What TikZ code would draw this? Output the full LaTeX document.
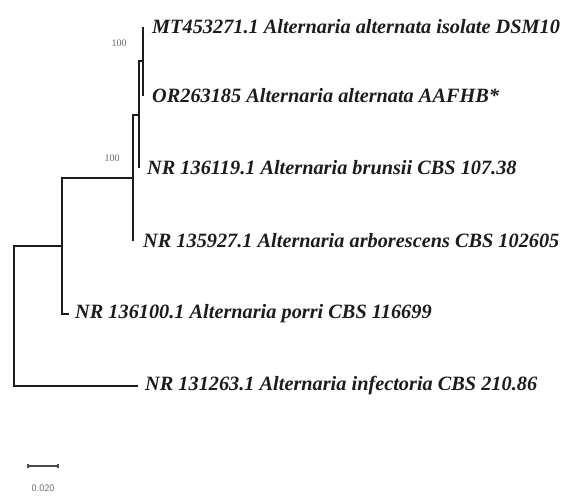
\documentclass[tikz,border=0pt]{standalone}
\usepackage{fontspec}
\setmainfont{Liberation Serif}
\usetikzlibrary{positioning}
\definecolor{inkgrey}{RGB}{28,28,28}
\definecolor{bootgrey}{RGB}{105,105,105}
\tikzset{
  taxon/.style  ={anchor=west, inner sep=0pt, text=inkgrey,
                  font=\fontsize{20.3}{20.3}\selectfont\bfseries\itshape},
  branch/.style ={draw=inkgrey, line width=1.3pt},
  boot/.style   ={text=bootgrey, inner sep=0pt, font=\fontsize{10}{10}\selectfont},
  scalebar/.style={draw=bootgrey!70!black, line width=1.2pt},
}
\begin{document}
\begin{tikzpicture}[x=1pt,y=-1pt]
\useasboundingbox (0,0) rectangle (567,499);
\def\yA{27} \def\yB{96} \def\yC{168} \def\yD{241} \def\yE{314} \def\yF{386}

% internal nodes
\coordinate (nAlt)  at (143,61);
\coordinate (nBru)  at (139,115);
\coordinate (nArb)  at (133,178);
\coordinate (nPor)  at (62,246);
\coordinate (nRoot) at (14,316);

% branch tips
\coordinate (tMT)  at (143,\yA);
\coordinate (tOR)  at (143,\yB);
\coordinate (tBru) at (139,\yC);
\coordinate (tArb) at (133,\yD);
\coordinate (tPor) at (69,\yE);
\coordinate (tInf) at (138,\yF);

% taxa
\node[taxon, right=9pt of tMT]   (mt)  {MT453271.1 Alternaria alternata isolate DSM10};
\node[taxon, right=9pt of tOR]   (or)  {OR263185 Alternaria alternata AAFHB*};
\node[taxon, right=8pt of tBru]  (bru) {NR 136119.1 Alternaria brunsii CBS 107.38};
\node[taxon, right=10pt of tArb] (arb) {NR 135927.1 Alternaria arborescens CBS 102605};
\node[taxon, right=6pt of tPor]  (por) {NR 136100.1 Alternaria porri CBS 116699};
\node[taxon, right=7pt of tInf]  (inf) {NR 131263.1 Alternaria infectoria CBS 210.86};

% branches
\draw[branch] (nAlt) |- (tMT);
\draw[branch] (nAlt) |- (tOR);
\draw[branch] (nBru) |- (nAlt);
\draw[branch] (nBru) |- (tBru);
\draw[branch] (nArb) |- (nBru);
\draw[branch] (nArb) |- (tArb);
\draw[branch] (nPor) |- (nArb);
\draw[branch] (nPor) |- (tPor);
\draw[branch] (nRoot) |- (nPor);
\draw[branch] (nRoot) |- (tInf);

% bootstrap values
\node[boot] (bAlt) at (119,43)  {100};
\node[boot] (bBru) at (112,158) {100};

% scale
\coordinate (sL) at (28,466);
\coordinate (sR) at (58,466);
\draw[scalebar] (sL) -- (sR);
\draw[scalebar] ([yshift=-2pt]sL) -- ([yshift=2pt]sL);
\draw[scalebar] ([yshift=-2pt]sR) -- ([yshift=2pt]sR);
\node[boot, font=\sffamily\fontsize{10}{10}\selectfont, below=19pt of sL, xshift=15pt] (sLab) {0.020};
\end{tikzpicture}
\end{document}
